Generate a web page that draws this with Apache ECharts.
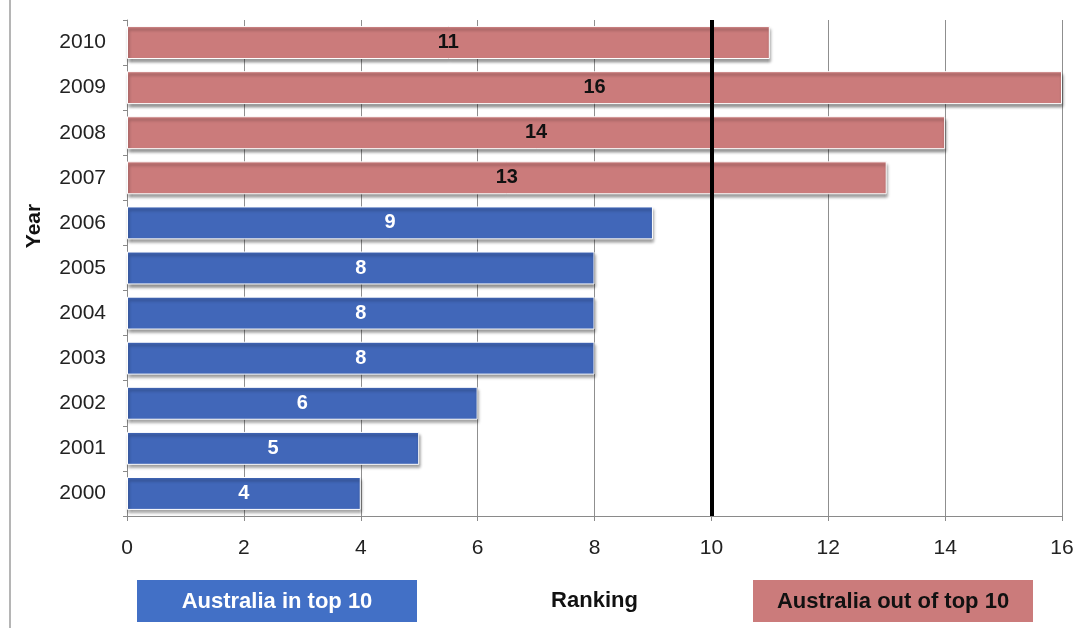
<!DOCTYPE html>
<html>
<head>
<meta charset="utf-8">
<title>Australia ranking by year</title>
<script src="https://cdn.jsdelivr.net/npm/echarts@6/dist/echarts.min.js"></script>
<style>
  html, body { margin: 0; padding: 0; background: #ffffff; }
  #chart { width: 1084px; height: 628px; }
</style>
</head>
<body>
<div id="chart"></div>
<script>
// Years on the category axis (bottom to top) and Australia's ranking for each
const years = ['2000', '2001', '2002', '2003', '2004', '2005', '2006', '2007', '2008', '2009', '2010'];
const rankings = [4, 5, 6, 8, 8, 8, 9, 13, 14, 16, 11];
const xTicks = { min: 0, max: 16, interval: 2 };
const cutoff = 10;

const inTopColor = '#4167b9';
const outTopColor = '#cb7b7b';
const legendInColor = '#4270c6';
const fontFamily = '"Liberation Sans", Arial, sans-serif';

const chart = echarts.init(document.getElementById('chart'));

const barData = rankings.map(function (v) {
  const inTop = v <= cutoff;
  return {
    value: v,
    itemStyle: { color: inTop ? inTopColor : outTopColor },
    label: { color: inTop ? '#ffffff' : '#111111' }
  };
});

chart.setOption({
  animation: false,
  backgroundColor: '#ffffff',
  grid: { left: 127, right: 22, top: 20, bottom: 112 },
  xAxis: {
    type: 'value',
    min: xTicks.min,
    max: xTicks.max,
    interval: xTicks.interval,
    name: 'Ranking',
    nameLocation: 'middle',
    nameGap: 74,
    nameTextStyle: { fontFamily: fontFamily, fontSize: 22, fontWeight: 'bold', color: '#111' },
    axisLine: { show: true, lineStyle: { color: '#8a8a8a', width: 1 } },
    axisTick: { show: true, length: 5, lineStyle: { color: '#8a8a8a' } },
    axisLabel: { fontFamily: fontFamily, fontSize: 21, color: '#222', margin: 22 },
    splitLine: { show: true, lineStyle: { color: '#8f8f8f', width: 1 } }
  },
  yAxis: {
    type: 'category',
    data: years,
    axisLine: { show: true, lineStyle: { color: '#8a8a8a', width: 1 } },
    axisTick: { show: true, length: 4, alignWithLabel: false, lineStyle: { color: '#8a8a8a' } },
    axisLabel: { fontFamily: fontFamily, fontSize: 21, color: '#222', margin: 21 },
    splitLine: { show: false }
  },
  series: [{
    type: 'bar',
    data: barData,
    barCategoryGap: '27%',
    itemStyle: {
      borderColor: '#ffffff',
      borderWidth: 1,
      shadowColor: 'rgba(0,0,0,0.45)',
      shadowBlur: 3,
      shadowOffsetX: 1,
      shadowOffsetY: 3
    },
    label: {
      show: true,
      position: 'inside',
      fontFamily: fontFamily,
      fontSize: 20,
      fontWeight: 'bold'
    },
    markLine: {
      silent: true,
      symbol: ['none', 'none'],
      label: { show: false },
      lineStyle: { color: '#000000', width: 4, type: 'solid' },
      data: [{ xAxis: cutoff }]
    }
  }],
  graphic: [
    // thin frame line on the left edge
    { type: 'rect', left: 9, top: 0, shape: { width: 2, height: 628 }, style: { fill: '#b5b5b5' } },
    // vertical axis title
    {
      type: 'text', x: 34, y: 226, rotation: Math.PI / 2,
      style: { text: 'Year', fontFamily: fontFamily, fontSize: 21, fontWeight: 'bold', fill: '#111',
               textAlign: 'center', textVerticalAlign: 'middle' }
    },
    // key boxes below the chart
    {
      type: 'group', left: 137, top: 580,
      children: [
        { type: 'rect', shape: { width: 280, height: 42 }, style: { fill: legendInColor } },
        { type: 'text', x: 140, y: 22,
          style: { text: 'Australia in top 10', fontFamily: fontFamily, fontSize: 22, fontWeight: 'bold',
                   fill: '#ffffff', textAlign: 'center', textVerticalAlign: 'middle' } }
      ]
    },
    {
      type: 'group', left: 753, top: 580,
      children: [
        { type: 'rect', shape: { width: 280, height: 42 }, style: { fill: outTopColor } },
        { type: 'text', x: 140, y: 22,
          style: { text: 'Australia out of top 10', fontFamily: fontFamily, fontSize: 22, fontWeight: 'bold',
                   fill: '#111111', textAlign: 'center', textVerticalAlign: 'middle' } }
      ]
    }
  ]
});
</script>
</body>
</html>
